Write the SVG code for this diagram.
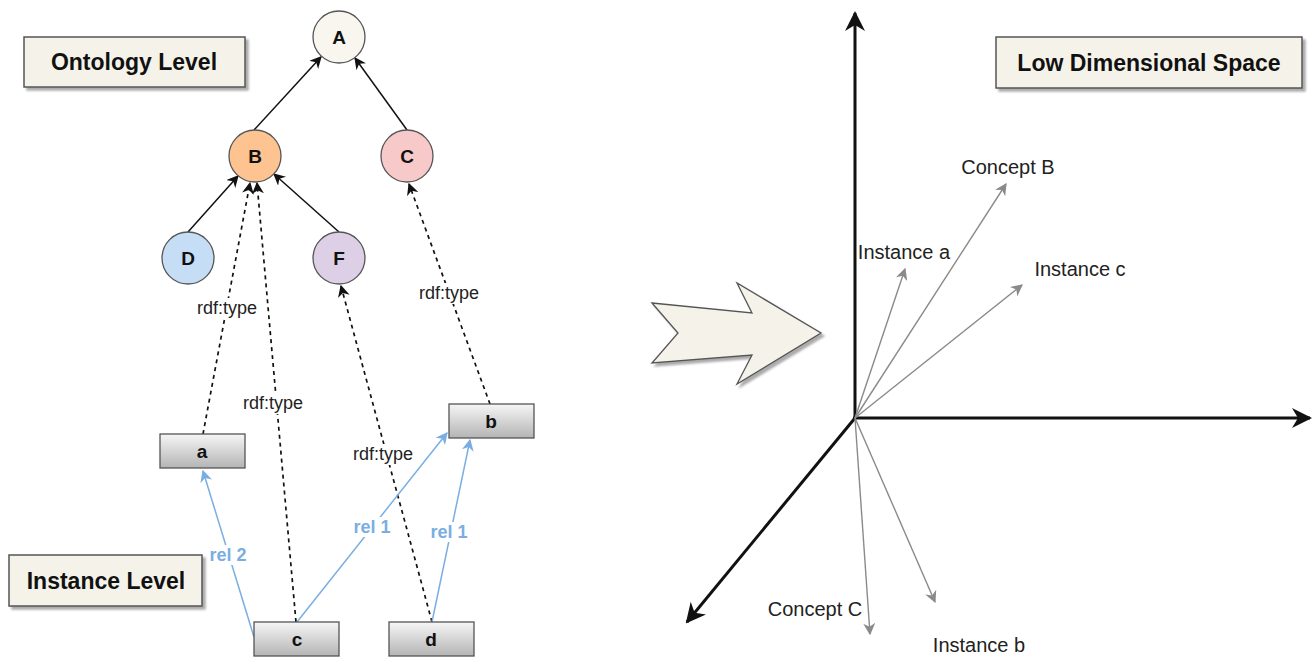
<svg xmlns="http://www.w3.org/2000/svg" width="1312" height="661" viewBox="0 0 1312 661">
<style>
text{font-family:"Liberation Sans",Arial,Helvetica,sans-serif;fill:#111;}
.title{font-size:23px;font-weight:bold;text-anchor:middle;dominant-baseline:central;}
.node{font-size:19px;font-weight:bold;text-anchor:middle;dominant-baseline:central;}
.lbl{font-size:18px;text-anchor:middle;dominant-baseline:central;fill:#222;}
.rel{font-size:18px;font-weight:bold;text-anchor:middle;dominant-baseline:central;fill:#7aaee2;}
.vlbl{font-size:20px;text-anchor:middle;dominant-baseline:central;fill:#222;}
.tbox{fill:#f5f3e9;stroke:#555;stroke-width:1.5;filter:url(#sh);}
.circ{stroke:#555;stroke-width:1.3;}
.ibox{fill:url(#gr);stroke:#555;stroke-width:1.3;}
.solid{stroke:#111;stroke-width:1.5;fill:none;marker-end:url(#ab);}
.dash{stroke:#111;stroke-width:1.7;stroke-dasharray:4 4;fill:none;marker-end:url(#ab);}
.blue{stroke:#7aaee2;stroke-width:1.5;fill:none;marker-end:url(#abl);}
.axis{stroke:#111;stroke-width:3;fill:none;marker-end:url(#ax);}
.vec{stroke:#8a8a8a;stroke-width:1.4;fill:none;marker-end:url(#ag);}
.lb{fill:#fff;}
</style>
<defs>
<filter id="sh" x="-10%" y="-10%" width="130%" height="140%">
<feDropShadow dx="3" dy="3" stdDeviation="1.2" flood-color="#888" flood-opacity="0.7"/>
</filter>
<linearGradient id="gr" x1="0" y1="0" x2="0" y2="1">
<stop offset="0" stop-color="#f6f6f6"/>
<stop offset="1" stop-color="#b4b4b4"/>
</linearGradient>
<marker id="ab" viewBox="0 0 10 10" refX="9" refY="5" markerWidth="12" markerHeight="12" markerUnits="userSpaceOnUse" orient="auto">
<path d="M0,0 L10,5 L0,10 L3,5 z" fill="#111"/>
</marker>
<marker id="abl" viewBox="0 0 10 10" refX="9" refY="5" markerWidth="12" markerHeight="12" markerUnits="userSpaceOnUse" orient="auto">
<path d="M0,0 L10,5 L0,10 L3,5 z" fill="#7aaee2"/>
</marker>
<marker id="ag" viewBox="0 0 10 10" refX="9" refY="5" markerWidth="12" markerHeight="12" markerUnits="userSpaceOnUse" orient="auto">
<path d="M0,0 L10,5 L0,10 L3,5 z" fill="#8a8a8a"/>
</marker>
<marker id="ax" viewBox="0 0 10 10" refX="9" refY="5" markerWidth="20" markerHeight="20" markerUnits="userSpaceOnUse" orient="auto">
<path d="M0,0 L10,5 L0,10 L3,5 z" fill="#111"/>
</marker>
</defs>
<rect width="1312" height="661" fill="#fff"/>

<!-- separator line -->
<line x1="10" y1="351" x2="635" y2="351" stroke="#3b6d1e" stroke-width="5" filter="url(#sh)"/>

<!-- connectors -->
<g id="connectors">
<line class="solid" x1="254" y1="130" x2="321" y2="57"/>
<line class="solid" x1="407" y1="130" x2="355" y2="58"/>
<line class="solid" x1="188" y1="232" x2="238" y2="176"/>
<line class="solid" x1="339" y1="232" x2="274" y2="174"/>
<line class="dash" x1="203" y1="434" x2="250" y2="183"/>
<line class="dash" x1="296" y1="622" x2="257" y2="183"/>
<line class="dash" x1="432" y1="622" x2="341" y2="286"/>
<line class="dash" x1="490" y1="404" x2="409" y2="184"/>
<line class="blue" x1="254" y1="637" x2="203" y2="471"/>
<line class="blue" x1="297" y1="622" x2="447" y2="433"/>
<line class="blue" x1="432" y1="622" x2="470" y2="440"/>
<rect class="lb" x="196" y="298" width="62" height="21"/>
<text class="lbl" x="227" y="308">rdf:type</text>
<rect class="lb" x="418" y="283" width="62" height="21"/>
<text class="lbl" x="449" y="293">rdf:type</text>
<rect class="lb" x="242" y="393" width="62" height="21"/>
<text class="lbl" x="273" y="403">rdf:type</text>
<rect class="lb" x="352" y="444" width="62" height="21"/>
<text class="lbl" x="383" y="454">rdf:type</text>
<rect class="lb" x="209" y="545" width="38" height="20"/>
<text class="rel" x="228" y="555">rel 2</text>
<rect class="lb" x="354" y="517" width="37" height="20"/>
<text class="rel" x="372" y="527">rel 1</text>
<rect class="lb" x="431" y="522" width="37" height="20"/>
<text class="rel" x="449" y="532">rel 1</text>
</g>

<!-- level labels -->
<g id="ontology-level"><rect class="tbox" x="24" y="37" width="221" height="50"/><text class="title" x="134" y="62">Ontology Level</text></g>
<g id="instance-level"><rect class="tbox" x="9" y="555" width="193" height="51"/><text class="title" x="106" y="581">Instance Level</text></g>
<g id="low-dim"><rect class="tbox" x="996" y="37" width="306" height="51"/><text class="title" x="1149" y="63">Low Dimensional Space</text></g>

<!-- ontology nodes -->
<g id="node-A"><circle class="circ" cx="339" cy="37" r="26" fill="#f8f6ee"/><text class="node" x="339" y="37">A</text></g>
<g id="node-B"><circle class="circ" cx="255" cy="156" r="26" fill="#fdc491"/><text class="node" x="255" y="156">B</text></g>
<g id="node-C"><circle class="circ" cx="407" cy="156" r="26" fill="#f8c9c9"/><text class="node" x="407" y="156">C</text></g>
<g id="node-D"><circle class="circ" cx="188" cy="258" r="26" fill="#c6ddf6"/><text class="node" x="188" y="258">D</text></g>
<g id="node-F"><circle class="circ" cx="339" cy="258" r="26" fill="#ddd0e6"/><text class="node" x="339" y="258">F</text></g>

<!-- instance nodes -->
<g id="node-a"><rect class="ibox" x="160" y="434" width="85" height="34"/><text class="node" x="202" y="451">a</text></g>
<g id="node-b"><rect class="ibox" x="449" y="404" width="85" height="34"/><text class="node" x="491" y="421">b</text></g>
<g id="node-c"><rect class="ibox" x="254" y="622" width="85" height="34"/><text class="node" x="297" y="639">c</text></g>
<g id="node-d"><rect class="ibox" x="389" y="622" width="85" height="34"/><text class="node" x="431" y="639">d</text></g>

<!-- big arrow -->
<g id="big-arrow"><polygon points="652,303 752,313 737,283 821,333 737,384 752,355 652,363 678,333" fill="#f5f3e9" stroke="#555" stroke-width="1.3" filter="url(#sh)"/></g>

<!-- axes -->
<g id="axes">
<line class="axis" x1="855" y1="419" x2="855" y2="13"/>
<line class="axis" x1="853" y1="418" x2="1310" y2="418"/>
<line class="axis" x1="855" y1="418" x2="687" y2="622"/>
</g>

<!-- vectors -->
<g id="vectors">
<line class="vec" x1="855" y1="418" x2="905" y2="269"/>
<line class="vec" x1="855" y1="418" x2="1006" y2="184"/>
<line class="vec" x1="855" y1="418" x2="1022" y2="285"/>
<line class="vec" x1="855" y1="418" x2="870" y2="634"/>
<line class="vec" x1="855" y1="418" x2="935" y2="602"/>
<text class="vlbl" x="1008" y="167">Concept B</text>
<text class="vlbl" x="904" y="252">Instance a</text>
<text class="vlbl" x="1080" y="269">Instance c</text>
<text class="vlbl" x="815" y="609">Concept C</text>
<text class="vlbl" x="979" y="645">Instance b</text>
</g>
</svg>
